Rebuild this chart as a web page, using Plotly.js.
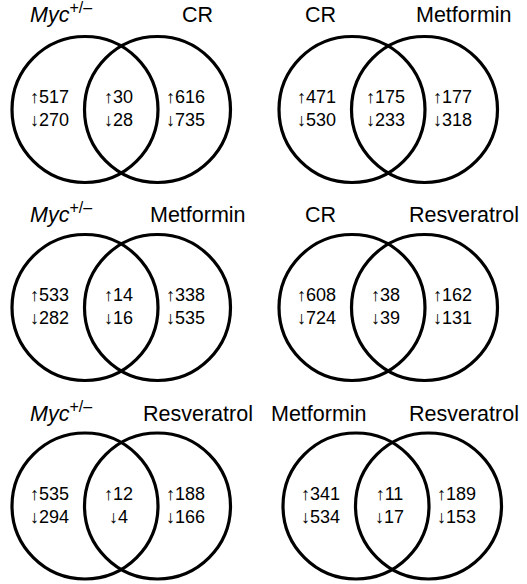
<!DOCTYPE html>
<html>
<head>
<meta charset="utf-8">
<script src="https://cdn.plot.ly/plotly-3.0.1.min.js"></script>
<style>html,body{margin:0;padding:0;background:#fff;}#chart{width:527px;height:584px;}</style>
</head>
<body>
<div id="chart"></div>
<script>
// ---- data ----
const labelA = ['<i>Myc</i><sup><span style="font-size:16px">+/–</span></sup>', 'CR', '<i>Myc</i><sup><span style="font-size:16px">+/–</span></sup>', 'CR', '<i>Myc</i><sup><span style="font-size:16px">+/–</span></sup>', 'Metformin'];
const labelB = ['CR', 'Metformin', 'Metformin', 'Resveratrol', 'Resveratrol', 'Resveratrol'];
const upA    = [517, 471, 533, 608, 535, 341];
const downA  = [270, 530, 282, 724, 294, 534];
const upAB   = [30, 175, 14, 38, 12, 11];
const downAB = [28, 233, 16, 39, 4, 17];
const upB    = [616, 177, 338, 162, 188, 189];
const downB  = [735, 318, 535, 131, 166, 153];

// ---- layout constants (positions in page pixels) ----
const W = 527, H = 584;
const panelX = [0, 267, 0, 267, 0, 271];
const rowCY = [109.5, 307.5, 506];
const rowLabelY = [29, 229, 428];
const circleRel = [85, 157.5];
const R = 73;
const textRel = [49, 118, 185];
const labelAX = [60.5, 320.5, 60.5, 320.5, 60.5, 319];
const labelBX = [197.5, 464, 197.5, 464, 197.5, 464];

const FONT = 'Liberation Sans, Arial, Helvetica, sans-serif';
const shapes = [];
const annotations = [];

for (let i = 0; i < 6; i++) {
  const row = Math.floor(i / 2);
  const cy = rowCY[row];
  const ox = panelX[i];
  circleRel.forEach(cx => {
    shapes.push({
      type: 'circle', xref: 'x', yref: 'y',
      x0: ox + cx - R, x1: ox + cx + R,
      y0: cy - R, y1: cy + R,
      line: {color: '#000', width: 3.2},
      fillcolor: 'rgba(0,0,0,0)'
    });
  });
  const texts = [
    '↑' + upA[i] + '<br>↓' + downA[i],
    '↑' + upAB[i] + '<br>↓' + downAB[i],
    '↑' + upB[i] + '<br>↓' + downB[i]
  ];
  texts.forEach((t, k) => {
    annotations.push({
      xref: 'x', yref: 'y', x: ox + textRel[k], y: cy - 1,
      text: t, showarrow: false, xanchor: 'center', yanchor: 'middle',
      align: 'center', font: {family: FONT, size: 18, color: '#000'}
    });
  });
  annotations.push({
    xref: 'x', yref: 'y', x: labelAX[i], y: rowLabelY[row],
    text: labelA[i], showarrow: false, xanchor: 'center', yanchor: 'bottom',
    font: {family: FONT, size: 21.5, color: '#000'}
  });
  annotations.push({
    xref: 'x', yref: 'y', x: labelBX[i], y: rowLabelY[row],
    text: labelB[i], showarrow: false, xanchor: 'center', yanchor: 'bottom',
    font: {family: FONT, size: 21.5, color: '#000'}
  });
}

const layout = {
  width: W, height: H,
  margin: {l: 0, r: 0, t: 0, b: 0, pad: 0},
  paper_bgcolor: '#fff', plot_bgcolor: '#fff',
  showlegend: false,
  xaxis: {range: [0, W], visible: false, fixedrange: true},
  yaxis: {range: [H, 0], visible: false, fixedrange: true},
  shapes: shapes,
  annotations: annotations
};

Plotly.newPlot('chart', [], layout, {staticPlot: true, displayModeBar: false});
</script>
</body>
</html>
